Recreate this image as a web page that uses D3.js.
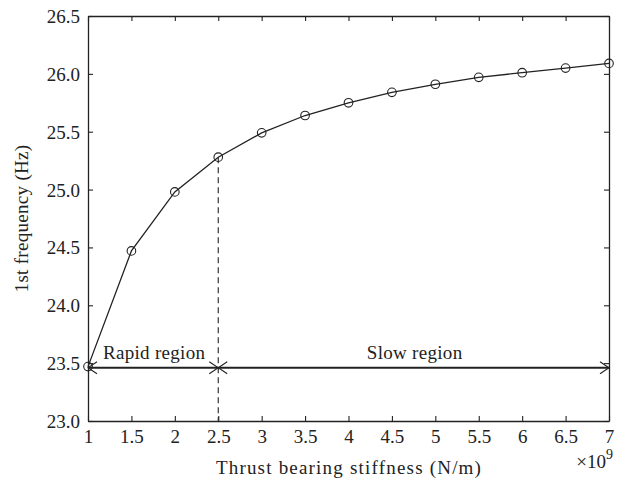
<!DOCTYPE html>
<html>
<head>
<meta charset="utf-8">
<script src="https://cdn.jsdelivr.net/npm/d3@7"></script>
<style>
  body { margin: 0; background: #fff; }
  text { font-family: "Liberation Serif", "DejaVu Serif", serif; fill: #222; }
</style>
</head>
<body>
<script>
// stiffness (x 10^9 N/m) and 1st natural frequency (Hz)
const stiffness = [1, 1.5, 2, 2.5, 3, 3.5, 4, 4.5, 5, 5.5, 6, 6.5, 7];
const frequency = [23.47, 24.47, 24.98, 25.28, 25.49, 25.64, 25.75, 25.84, 25.91, 25.97, 26.01, 26.05, 26.09];
const xTicks = [1, 1.5, 2, 2.5, 3, 3.5, 4, 4.5, 5, 5.5, 6, 6.5, 7];
const yTicks = [23.0, 23.5, 24.0, 24.5, 25.0, 25.5, 26.0, 26.5];
const regions = [
  { name: "Rapid region", from: 1, to: 2.5 },
  { name: "Slow region", from: 2.5, to: 7 }
];
const regionLevel = 23.46;
const splitAt = 2.5;

const w = 621, h = 485;
const m = { left: 88, right: 12, top: 16, bottom: 64 };

const svg = d3.select("body").append("svg")
  .attr("width", w).attr("height", h);

const x = d3.scaleLinear().domain([1, 7]).range([m.left, w - m.right]);
const y = d3.scaleLinear().domain([23, 26.5]).range([h - m.bottom, m.top]);

const ink = "#222";

// axes with inward ticks, on all four sides
const fs = "19px";
svg.append("g")
  .attr("transform", `translate(0,${h - m.bottom})`)
  .call(d3.axisBottom(x).tickValues(xTicks).tickSizeInner(-5).tickSizeOuter(0).tickPadding(9).tickFormat(d3.format("")))
  .call(g => g.selectAll("text").style("font-size", fs));
svg.append("g")
  .attr("transform", `translate(0,${m.top})`)
  .call(d3.axisTop(x).tickValues(xTicks).tickSizeInner(-5).tickSizeOuter(0).tickFormat(""));
svg.append("g")
  .attr("transform", `translate(${m.left},0)`)
  .call(d3.axisLeft(y).tickValues(yTicks).tickSizeInner(-5).tickSizeOuter(0).tickPadding(8).tickFormat(d3.format(".1f")))
  .call(g => g.selectAll("text").style("font-size", fs).attr("dy", "0.34em"));
svg.append("g")
  .attr("transform", `translate(${w - m.right},0)`)
  .call(d3.axisRight(y).tickValues(yTicks).tickSizeInner(-5).tickSizeOuter(0).tickFormat(""));

svg.selectAll(".domain").attr("stroke", ink).attr("stroke-width", 1.3);
svg.selectAll(".tick line").attr("stroke", ink).attr("stroke-width", 1.1);
svg.selectAll(".tick text").attr("fill", ink);

// dashed divider from the curve down to the axis
const splitIdx = stiffness.indexOf(splitAt);
svg.append("line")
  .attr("x1", x(splitAt)).attr("x2", x(splitAt))
  .attr("y1", y(frequency[splitIdx])).attr("y2", y(23))
  .attr("stroke", ink).attr("stroke-width", 1.1)
  .attr("stroke-dasharray", "6,4");

// region arrows
const arrowHead = (px, py, dir) => {
  const a = 9, b = 6;
  svg.append("path")
    .attr("d", `M${px - dir * a},${py - b}L${px},${py}L${px - dir * a},${py + b}`)
    .attr("fill", "none").attr("stroke", ink).attr("stroke-width", 1.1);
};
regions.forEach(r => {
  const py = y(regionLevel);
  svg.append("line")
    .attr("x1", x(r.from)).attr("x2", x(r.to))
    .attr("y1", py).attr("y2", py)
    .attr("stroke", ink).attr("stroke-width", 1.8);
  arrowHead(x(r.from), py, -1);
  arrowHead(x(r.to), py, 1);
  svg.append("text")
    .attr("x", (x(r.from) + x(r.to)) / 2 + 1)
    .attr("y", py - 9)
    .attr("text-anchor", "middle")
    .style("font-size", "19px")
    .style("letter-spacing", "0.3px")
    .text(r.name);
});

// curve
const pts = stiffness.map((s, i) => [s, frequency[i]]);
svg.append("path")
  .datum(pts)
  .attr("d", d3.line().x(d => x(d[0])).y(d => y(d[1])))
  .attr("fill", "none").attr("stroke", ink).attr("stroke-width", 1.3);
svg.append("g").selectAll("circle")
  .data(pts)
  .enter().append("circle")
  .attr("cx", d => x(d[0])).attr("cy", d => y(d[1]))
  .attr("r", 4.3)
  .attr("fill", "none").attr("stroke", ink).attr("stroke-width", 1.1);

// labels
svg.append("text")
  .attr("x", 349)
  .attr("y", h - 11)
  .attr("text-anchor", "middle")
  .style("font-size", "19px")
  .style("letter-spacing", "1.2px")
  .text("Thrust bearing stiffness (N/m)");

svg.append("text")
  .attr("transform", `translate(28,${(m.top + h - m.bottom) / 2}) rotate(-90)`)
  .attr("text-anchor", "middle")
  .style("font-size", "19px")
  .style("letter-spacing", "0.3px")
  .text("1st frequency (Hz)");

const exp = svg.append("text")
  .attr("x", w - 8)
  .attr("y", h - 17)
  .attr("text-anchor", "end")
  .style("font-size", "19px");
exp.append("tspan").text("\u00d710");
exp.append("tspan").attr("dy", -9).style("font-size", "14px").text("9");
</script>
</body>
</html>
